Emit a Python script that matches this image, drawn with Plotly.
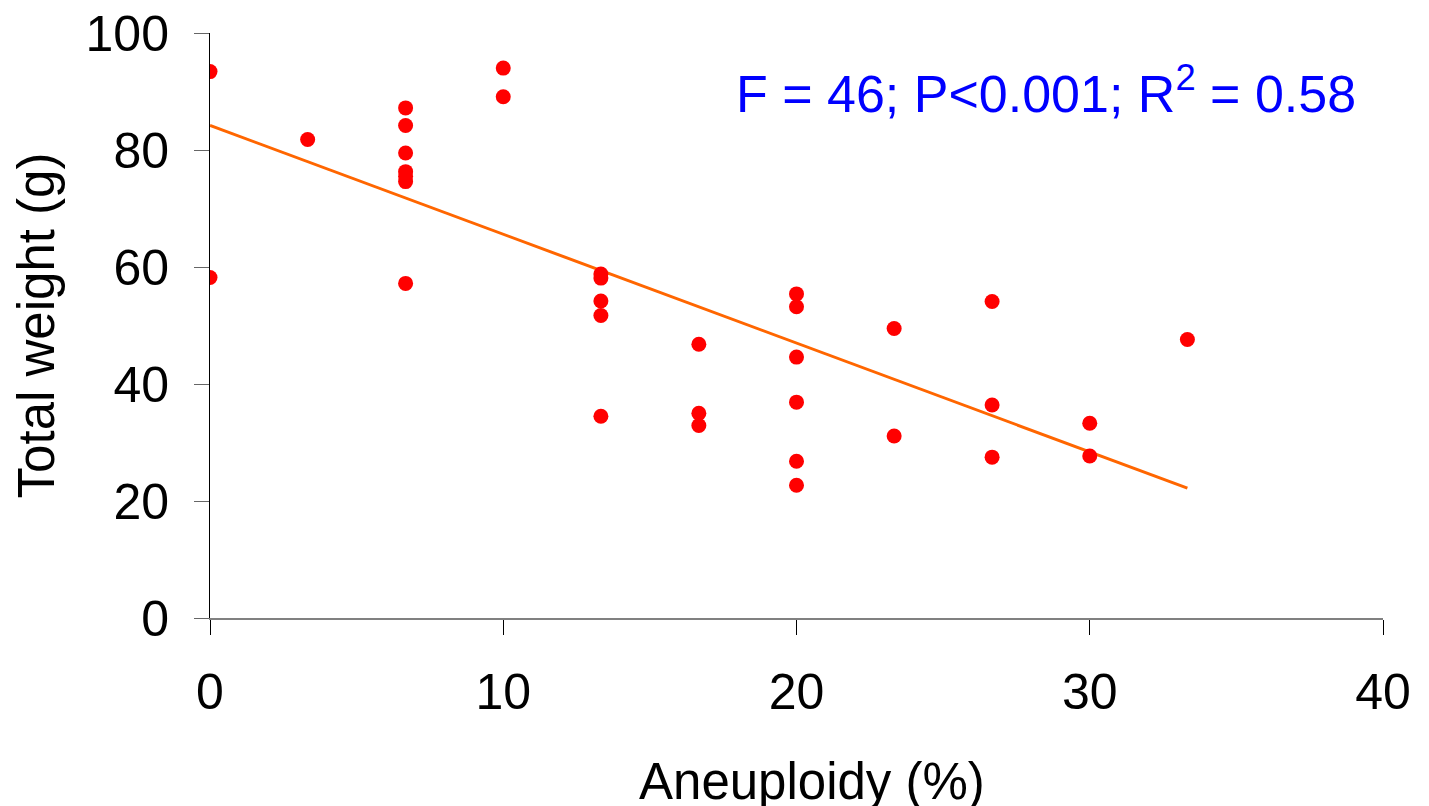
import plotly.graph_objects as go

# Data
aneuploidy = [0, 0,
              3.33,
              6.67, 6.67, 6.67, 6.67, 6.67, 6.67, 6.67,
              10, 10,
              13.33, 13.33, 13.33, 13.33, 13.33,
              16.67, 16.67, 16.67,
              20, 20, 20, 20, 20, 20,
              23.33, 23.33,
              26.67, 26.67, 26.67,
              30, 30,
              33.33]
total_weight = [93.4, 58.2,
                81.8,
                87.2, 84.2, 79.5, 76.3, 75.5, 74.6, 57.2,
                94.0, 89.1,
                58.8, 58.1, 54.2, 51.7, 34.5,
                46.8, 35.0, 32.9,
                55.4, 53.2, 44.6, 36.9, 26.8, 22.7,
                49.5, 31.1,
                54.1, 36.4, 27.5,
                33.3, 27.7,
                47.6]

fit_x = [0, 33.33]
fit_y = [84.2, 22.2]

x_ticks = [0, 10, 20, 30, 40]
y_ticks = [0, 20, 40, 60, 80, 100]

x_title = "Aneuploidy (%)"
y_title = "Total weight (g)"
stats_text = "F = 46; P<0.001; R<sup>2</sup> = 0.58"

FONT = "Liberation Sans, Arial, sans-serif"

fig = go.Figure()
fig.add_trace(go.Scatter(
    x=fit_x, y=fit_y, mode="lines",
    line=dict(color="#FF6600", width=3),
    showlegend=False, hoverinfo="skip"))
fig.add_trace(go.Scatter(
    x=aneuploidy, y=total_weight, mode="markers",
    marker=dict(color="#FF0000", size=15, line=dict(width=0)),
    showlegend=False))

fig.update_layout(
    width=1421, height=798,
    margin=dict(l=202, r=46, t=25, b=188, autoexpand=False),
    paper_bgcolor="white", plot_bgcolor="white",
    font=dict(family=FONT, size=50, color="black"),
    xaxis=dict(
        range=[0, 40], tickvals=x_ticks, ticktext=[str(v) for v in x_ticks],
        showgrid=False, zeroline=False, automargin=False,
        ticklabeloverflow="allow",
        showline=True, linecolor="#808080", linewidth=2,
        ticks="outside", ticklen=15, tickcolor="black", tickwidth=1,
        ticklabelstandoff=14,
        tickfont=dict(size=50),
    ),
    yaxis=dict(
        range=[0, 100], tickvals=y_ticks, ticktext=[str(v) for v in y_ticks],
        showgrid=False, zeroline=False, automargin=False,
        ticklabeloverflow="allow",
        showline=True, linecolor="black", linewidth=1,
        ticks="outside", ticklen=15, tickcolor="#666666", tickwidth=1,
        ticklabelstandoff=15,
        tickfont=dict(size=50),
        title=dict(text=y_title, font=dict(size=51), standoff=28),
    ),
    annotations=[
        dict(text=stats_text, xref="paper", yref="paper",
             x=0.979, y=0.9026, xanchor="right", yanchor="middle",
             showarrow=False, font=dict(size=52, color="#0000FF")),
        dict(text=x_title, xref="paper", yref="paper",
             x=0.513, y=-0.2274, xanchor="center", yanchor="top",
             showarrow=False, font=dict(size=51, color="black")),
    ],
)

fig.write_html("out.html")
